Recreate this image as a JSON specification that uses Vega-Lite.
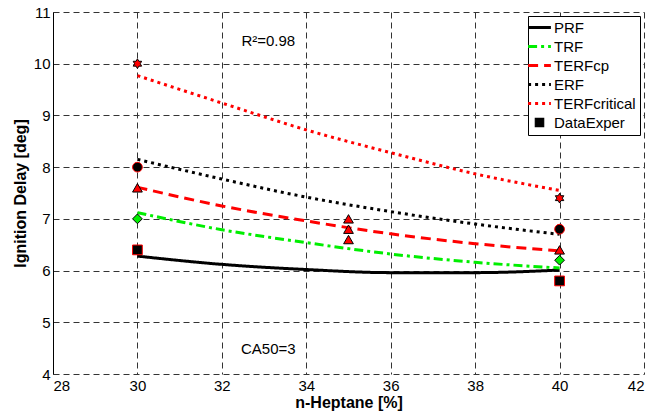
{
  "$schema": "https://vega.github.io/schema/vega-lite/v6.json",
  "width": 591,
  "height": 362,
  "autosize": {"type": "none"},
  "padding": {"left": 53, "top": 12, "right": 11, "bottom": 40},
  "background": "white",
  "config": {
    "font": "Liberation Sans",
    "view": {"stroke": null},
    "axis": {
      "labelFontSize": 15,
      "titleFontSize": 16,
      "titleFontWeight": "bold",
      "labelColor": "black",
      "titleColor": "black",
      "grid": true,
      "gridColor": "#333333",
      "gridDash": [6, 4],
      "ticks": false
    }
  },
  "data": {
    "values": [
      {"src": "curve", "x": 30, "y": 6.28, "series": "PRF"},
      {"src": "curve", "x": 32, "y": 6.12, "series": "PRF"},
      {"src": "curve", "x": 34, "y": 6.02, "series": "PRF"},
      {"src": "curve", "x": 36, "y": 5.96, "series": "PRF"},
      {"src": "curve", "x": 38, "y": 5.96, "series": "PRF"},
      {"src": "curve", "x": 40, "y": 6.01, "series": "PRF"},
      {"src": "curve", "x": 30, "y": 7.12, "series": "TRF"},
      {"src": "curve", "x": 32, "y": 6.79, "series": "TRF"},
      {"src": "curve", "x": 34, "y": 6.54, "series": "TRF"},
      {"src": "curve", "x": 36, "y": 6.32, "series": "TRF"},
      {"src": "curve", "x": 38, "y": 6.16, "series": "TRF"},
      {"src": "curve", "x": 40, "y": 6.05, "series": "TRF"},
      {"src": "curve", "x": 30, "y": 7.61, "series": "TERF_cp"},
      {"src": "curve", "x": 32, "y": 7.25, "series": "TERF_cp"},
      {"src": "curve", "x": 34, "y": 6.96, "series": "TERF_cp"},
      {"src": "curve", "x": 36, "y": 6.71, "series": "TERF_cp"},
      {"src": "curve", "x": 38, "y": 6.52, "series": "TERF_cp"},
      {"src": "curve", "x": 40, "y": 6.38, "series": "TERF_cp"},
      {"src": "curve", "x": 30, "y": 8.15, "series": "ERF"},
      {"src": "curve", "x": 32, "y": 7.77, "series": "ERF"},
      {"src": "curve", "x": 34, "y": 7.42, "series": "ERF"},
      {"src": "curve", "x": 36, "y": 7.14, "series": "ERF"},
      {"src": "curve", "x": 38, "y": 6.9, "series": "ERF"},
      {"src": "curve", "x": 40, "y": 6.7, "series": "ERF"},
      {"src": "curve", "x": 30, "y": 9.77, "series": "TERF_critical"},
      {"src": "curve", "x": 32, "y": 9.24, "series": "TERF_critical"},
      {"src": "curve", "x": 34, "y": 8.72, "series": "TERF_critical"},
      {"src": "curve", "x": 36, "y": 8.28, "series": "TERF_critical"},
      {"src": "curve", "x": 38, "y": 7.87, "series": "TERF_critical"},
      {"src": "curve", "x": 40, "y": 7.55, "series": "TERF_critical"},
      {"src": "exper", "x": 30, "y": 10.0, "kind": "TERF_critical"},
      {"src": "exper", "x": 30, "y": 8.0, "kind": "ERF"},
      {"src": "exper", "x": 30, "y": 7.6, "kind": "TERF_cp"},
      {"src": "exper", "x": 30, "y": 7.0, "kind": "TRF"},
      {"src": "exper", "x": 30, "y": 6.4, "kind": "PRF"},
      {"src": "exper", "x": 35, "y": 7.0, "kind": "TERF_cp"},
      {"src": "exper", "x": 35, "y": 6.8, "kind": "TERF_cp"},
      {"src": "exper", "x": 35, "y": 6.6, "kind": "TERF_cp"},
      {"src": "exper", "x": 40, "y": 7.4, "kind": "TERF_critical"},
      {"src": "exper", "x": 40, "y": 6.8, "kind": "ERF"},
      {"src": "exper", "x": 40, "y": 6.4, "kind": "TERF_cp"},
      {"src": "exper", "x": 40, "y": 6.2, "kind": "TRF"},
      {"src": "exper", "x": 40, "y": 5.8, "kind": "PRF"},
      {"src": "note", "x": 33.1, "y": 10.43, "label": "R²=0.98"},
      {"src": "note", "x": 33.1, "y": 4.49, "label": "CA50=3"}
    ]
  },
  "encoding": {
    "x": {
      "field": "x",
      "type": "quantitative",
      "scale": {"domain": [28, 42], "nice": false, "zero": false},
      "axis": {
        "title": "n-Heptane [%]",
        "values": [28, 30, 32, 34, 36, 38, 40, 42],
        "format": "d",
        "domain": false,
        "labelPadding": 4,
        "titlePadding": 1
      }
    },
    "y": {
      "field": "y",
      "type": "quantitative",
      "scale": {"domain": [4, 11], "nice": false, "zero": false},
      "axis": {
        "title": "Ignition Delay [deg]",
        "values": [4, 5, 6, 7, 8, 9, 10, 11],
        "format": "d",
        "domain": true,
        "domainColor": "black",
        "labelPadding": 3,
        "titlePadding": 5
      }
    }
  },
  "layer": [
    {
      "transform": [{"filter": "datum.src === 'curve'"}],
      "mark": {"type": "line", "interpolate": "monotone", "strokeWidth": 3},
      "encoding": {
        "color": {
          "field": "series",
          "type": "nominal",
          "scale": {
            "domain": ["PRF", "TRF", "TERF_cp", "ERF", "TERF_critical", "Data_Exper"],
            "range": ["black", "#00ee00", "#ff0000", "black", "#ff0000", "black"]
          },
          "legend": {
            "title": null,
            "orient": "top-right",
            "offset": 4,
            "fillColor": "white",
            "strokeColor": "black",
            "padding": 4,
            "rowPadding": 3,
            "symbolType": "stroke",
            "symbolSize": 520,
            "symbolStrokeWidth": 3,
            "labelOffset": 7,
            "labelFontSize": 15,
            "labelColor": "black",
            "labelExpr": "replace(datum.label, '_', '')",
            "encode": {
              "symbols": {
                "update": {
                  "shape": {"signal": "datum.value === 'Data_Exper' ? 'square' : 'stroke'"},
                  "fill": {"signal": "datum.value === 'Data_Exper' ? 'black' : 'transparent'"},
                  "stroke": {"signal": "datum.value === 'Data_Exper' ? '#ff0000' : scale('color', datum.value)"},
                  "strokeWidth": {"signal": "datum.value === 'Data_Exper' ? 1.2 : 3"},
                  "size": {"signal": "datum.value === 'Data_Exper' ? 70 : 520"}
                }
              }
            }
          }
        },
        "strokeDash": {
          "field": "series",
          "type": "nominal",
          "scale": {
            "domain": ["PRF", "TRF", "TERF_cp", "ERF", "TERF_critical", "Data_Exper"],
            "range": [[1, 0], [9, 4, 3, 4], [10, 6], [3, 4], [3, 4], [1, 0]]
          }
        }
      }
    },
    {
      "transform": [{"filter": "datum.src === 'exper'"}],
      "mark": {"type": "point", "filled": true, "opacity": 1, "strokeWidth": 1, "size": 95},
      "encoding": {
        "fill": {
          "field": "kind",
          "type": "nominal",
          "scale": {
            "domain": ["PRF", "TRF", "TERF_cp", "ERF", "TERF_critical"],
            "range": ["black", "#00ee00", "#ff0000", "black", "#ff0000"]
          },
          "legend": null
        },
        "stroke": {
          "field": "kind",
          "type": "nominal",
          "scale": {
            "domain": ["PRF", "TRF", "TERF_cp", "ERF", "TERF_critical"],
            "range": ["#ff0000", "black", "black", "#ff0000", "black"]
          },
          "legend": null
        },
        "shape": {
          "field": "kind",
          "type": "nominal",
          "scale": {
            "domain": ["PRF", "TRF", "TERF_cp", "ERF", "TERF_critical"],
            "range": [
              "square",
              "diamond",
              "triangle-up",
              "circle",
              "M0,-1L0.289,-0.5L0.866,-0.5L0.577,0L0.866,0.5L0.289,0.5L0,1L-0.289,0.5L-0.866,0.5L-0.577,0L-0.866,-0.5L-0.289,-0.5Z"
            ]
          },
          "legend": null
        }
      }
    },
    {
      "transform": [{"filter": "datum.src === 'note'"}],
      "mark": {"type": "text", "fontSize": 15, "color": "black"},
      "encoding": {
        "text": {"field": "label", "type": "nominal"}
      }
    }
  ]
}
